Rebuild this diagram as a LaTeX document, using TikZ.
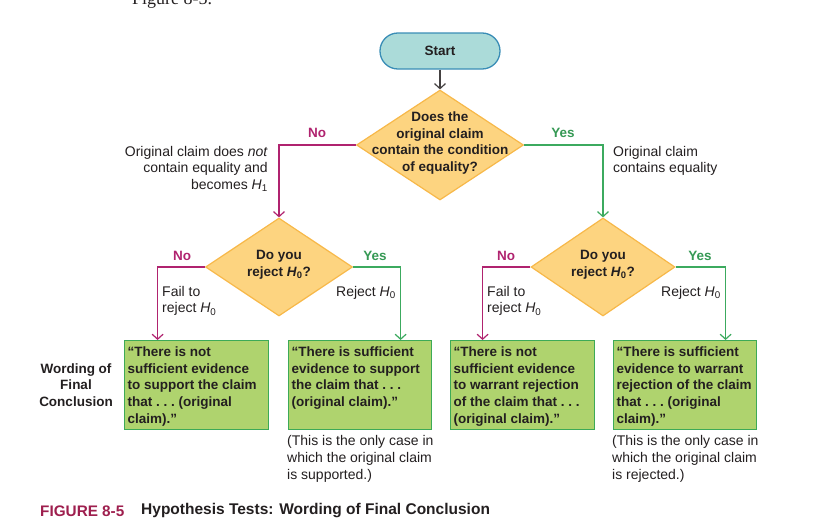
\documentclass[tikz,border=0pt]{standalone}
\usepackage{fontspec}
\setmainfont{Liberation Sans}
\newfontfamily\serifcap{Liberation Serif}
\usetikzlibrary{arrows.meta,shapes.geometric}
\definecolor{tealfill}{HTML}{ABDBD9}
\definecolor{tealline}{HTML}{3A8DB6}
\definecolor{diafill}{HTML}{FDD480}
\definecolor{dialine}{HTML}{F7B849}
\definecolor{boxfill}{HTML}{AFD36E}
\definecolor{boxline}{HTML}{3DAA57}
\definecolor{magen}{HTML}{B0236F}
\definecolor{grn}{HTML}{3CAA5F}
\definecolor{ink}{HTML}{231F20}
\definecolor{capred}{HTML}{9E1F4E}
\newcommand{\Hz}{\textit{H}\textsubscript{0}}
\newcommand{\regf}{\fontsize{14}{16.7}\selectfont}
\newcommand{\boldf}{\bfseries\fontsize{13.5}{16.7}\selectfont}
\begin{document}
\begin{tikzpicture}[x=1pt,y=-1pt,
  every node/.style={text=ink,font=\regf},
  startbox/.style={draw=tealline,fill=tealfill,line width=1.3pt,rounded corners=17.9pt,minimum width=120pt,minimum height=36pt,inner sep=0pt,font=\boldf},
  dia/.style={diamond,draw=dialine,fill=diafill,line width=1.2pt,inner sep=0pt},
  diatext/.style={align=center,font=\boldf,inner sep=0pt},
  concl/.style={draw=boxline,fill=boxfill,line width=1.2pt,inner xsep=3pt,inner ysep=6pt,font=\boldf},
  tip/.style={-{Straight Barb[length=5pt,width=11pt,line width=1.2pt]}},
  noline/.style={tip,draw=magen,line width=1.3pt},
  yesline/.style={tip,draw=grn,line width=1.3pt},
  nolab/.style={text=magen,font=\boldf,inner sep=0pt},
  yeslab/.style={text=grn!90!black,font=\boldf,inner sep=0pt},
  note/.style={inner sep=0pt}
]
\useasboundingbox (0,0) rectangle (815,531);
\node[anchor=base west,inner sep=0pt,font=\serifcap\fontsize{18}{20}\selectfont] (figtop) at (132,4) {Figure 8-5.};

\node[startbox] (start) at (440,51) {Start};
\node[dia,minimum width=167pt,minimum height=110pt] (d1) at (440,145) {};
\node[diatext] (d1t) at (440,143) {Does the\\original claim\\contain the condition\\of equality?};
\draw[tip,draw=ink!85,line width=1.2pt] (start) -- (d1);

\node[dia,minimum width=147pt,minimum height=98pt] (d2) at (279,267) {};
\node[diatext] (d2t) at (279,265) {Do you\\reject \Hz?};
\node[dia,minimum width=144pt,minimum height=98pt] (d3) at (603,267) {};
\node[diatext] (d3t) at (603,265) {Do you\\reject \Hz?};

\draw[noline] (d1.west) -| (d2.north);
\draw[yesline] (d1.east) -| (d3.north);
\node[nolab] (no1) at (317,133) {No};
\node[yeslab] (yes1) at (563,133) {Yes};
\node[note,anchor=east,align=right] (ann1) at (268,169) {Original claim does \textit{not}\\contain equality and\\becomes \textit{H}\textsubscript{1}};
\node[note,anchor=west,align=left] (ann2) at (613,161) {Original claim\\contains equality};

\node[concl,anchor=north west] (b1) at (124,340) {\parbox[t][77pt][t]{138pt}{\raggedright “There is not\\sufficient evidence\\to support the claim\\that~.~.~.~(original\\claim).”}};
\node[concl,anchor=north west] (b2) at (288,340) {\parbox[t][77pt][t]{137pt}{\raggedright “There is sufficient\\evidence to support\\the claim that~.~.~.\\(original claim).”}};
\node[concl,anchor=north west] (b3) at (450,340) {\parbox[t][77pt][t]{138pt}{\raggedright “There is not\\sufficient evidence\\to warrant rejection\\of the claim that~.~.~.\\(original claim).”}};
\node[concl,anchor=north west] (b4) at (613,340) {\parbox[t][77pt][t]{137pt}{\raggedright “There is sufficient\\evidence to warrant\\rejection of the claim\\that~.~.~.~(original\\claim).”}};

\draw[noline] (d2.west) -| ([xshift=-39pt]b1.north);
\draw[yesline] (d2.east) -| ([xshift=40.5pt]b2.north);
\draw[noline] (d3.west) -| ([xshift=-40pt]b3.north);
\draw[yesline] (d3.east) -| ([xshift=40.5pt]b4.north);

\node[nolab] (no2) at (182,256) {No};
\node[yeslab] (yes2) at (375,256) {Yes};
\node[nolab] (no3) at (506,256) {No};
\node[yeslab] (yes3) at (700,256) {Yes};

\node[note,anchor=west,align=left] (f1) at (162,301) {Fail to\\reject \Hz};
\node[note,anchor=east,align=right] (r1) at (396,293) {Reject \Hz};
\node[note,anchor=west,align=left] (f2) at (487,301) {Fail to\\reject \Hz};
\node[note,anchor=east,align=right] (r2) at (721,293) {Reject \Hz};

\node[align=center,inner sep=0pt,font=\boldf] (word) at (76,385) {Wording of\\Final\\Conclusion};

\node[note,anchor=west,align=left] (n1) at (287,459) {(This is the only case in\\which the original claim\\is supported.)};
\node[note,anchor=west,align=left] (n2) at (612,459) {(This is the only case in\\which the original claim\\is rejected.)};

\node[anchor=west,inner sep=0pt,text=capred,font=\bfseries\fontsize{15.3}{17}\selectfont] (cap1) at (40,511) {FIGURE 8-5};
\node[anchor=west,inner sep=0pt,font=\bfseries\fontsize{15.5}{17}\selectfont] (cap2) at (141,511) {Hypothesis Tests: Wording of Final Conclusion};
\end{tikzpicture}
\end{document}
